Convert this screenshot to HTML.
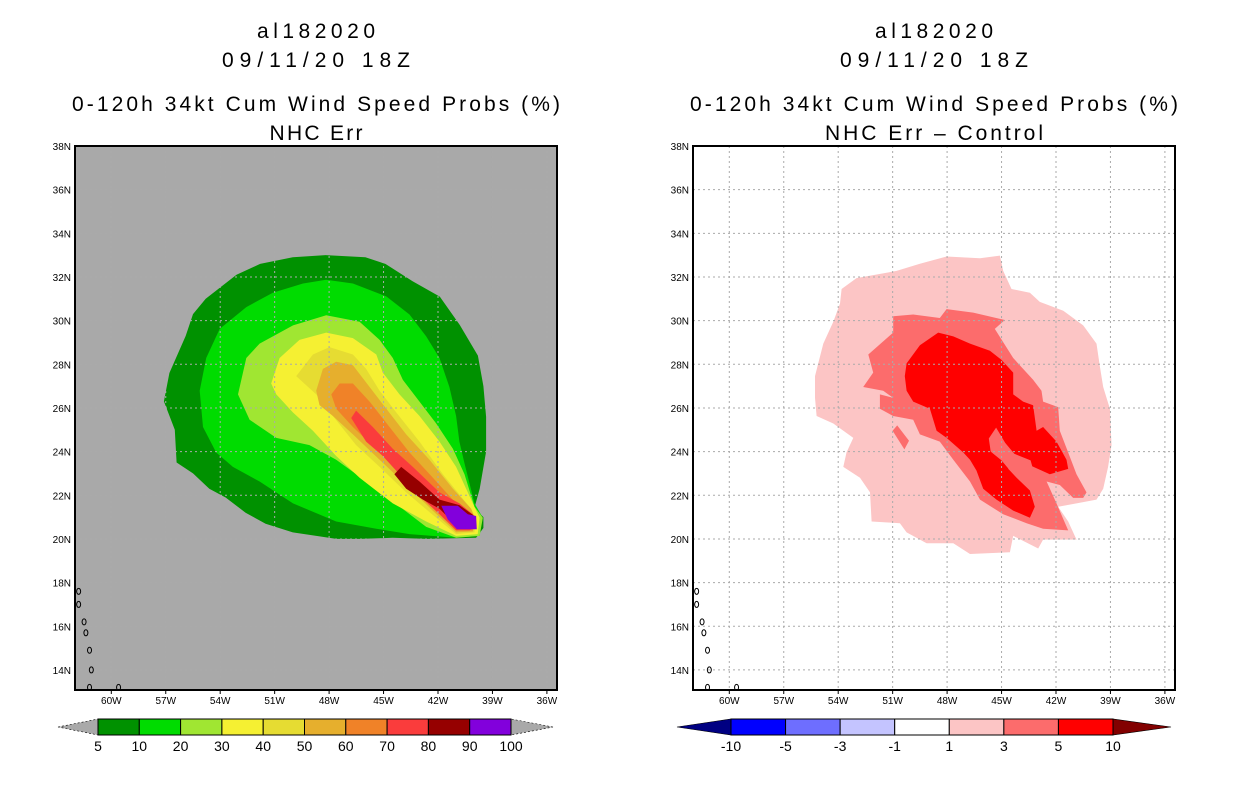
<!DOCTYPE html>
<html><head><meta charset="utf-8"><style>
body{margin:0;background:#fff;width:1236px;height:800px;overflow:hidden}
svg{display:block}
text{font-family:"Liberation Sans",sans-serif;fill:#000}
</style></head><body>
<svg id="s" width="1236" height="800"></svg>
<script>
const lonTicks=[60,57,54,51,48,45,42,39,36];
const latTicks=[14,16,18,20,22,24,26,28,30,32,34,36,38];
const probLevels=['5','10','20','30','40','50','60','70','80','90','100'];
const probColors=['#009100','#00dc00','#a0e632','#f5f032','#e6dc32','#e6af2d','#f08228','#fa3c3c','#960000','#8200dc'];
const diffLevels=['-10','-5','-3','-1','1','3','5','10'];
const diffColors=['#0000ff','#6e6eff','#c4c4ff','#ffffff','#fcc5c5','#fc6c6c','#ff0000'];
const p05=[[57.1,26.3],[56.8,27.6],[55.9,29.3],[55.5,30.3],[54.8,31.0],[53.1,32.1],[51.8,32.6],[50,32.9],[48.2,33],[46,32.9],[44.9,32.6],[43.4,31.8],[41.9,31.1],[40.8,29.8],[39.8,28.4],[39.5,27],[39.35,25.6],[39.35,24],[39.7,22.3],[40.0,21.4],[39.5,21.0],[39.5,20.5],[39.9,20.05],[42.6,20],[44.5,20.05],[46.3,20],[47.6,20],[50,20.3],[51.5,20.7],[52.6,21.2],[53.7,21.9],[54.6,22.3],[55.5,23.0],[56.4,23.5],[56.5,25]];
const p10=[[55.13,26.79],[54.77,28.29],[54.03,29.62],[52.56,30.62],[51.10,31.28],[49.44,31.70],[48.16,31.87],[46.69,31.70],[44.85,31.11],[43.57,30.28],[42.65,29.28],[41.92,28.29],[41.37,26.96],[41.0,25.63],[40.82,24.46],[40.54,23.46],[39.99,21.63],[39.53,20.97],[39.71,20.14],[41.0,20.05],[43.57,20.22],[45.40,20.47],[47.61,20.80],[49.99,21.63],[51.83,22.63],[53.30,23.30],[54.22,23.96],[54.95,25.13]];
const p20=[[53.02,26.62],[52.56,28.29],[51.83,28.95],[49.99,29.78],[48.16,30.25],[46.32,29.95],[45.22,29.12],[44.49,28.29],[43.94,27.29],[43.02,26.29],[42.10,25.29],[41.18,24.13],[40.54,22.96],[39.99,21.47],[39.53,20.97],[39.71,20.14],[41.0,20.05],[42.65,20.55],[45.40,22.30],[47.61,23.63],[49.08,24.30],[50.91,24.63],[52.38,25.46]];
const p30=[[51.19,27.12],[50.73,28.29],[49.63,29.12],[48.16,29.45],[46.69,29.20],[45.40,28.45],[45.04,27.62],[44.12,26.62],[43.02,25.63],[41.92,24.46],[41.0,23.30],[40.08,21.63],[39.71,20.97],[39.81,20.22],[41.0,20.14],[42.65,20.80],[44.49,21.63],[46.32,22.80],[47.61,23.80],[48.89,24.96],[49.99,25.79],[50.91,26.62]];
const p40=[[49.81,27.46],[48.89,28.45],[47.98,28.79],[46.69,28.45],[45.96,27.79],[45.22,26.79],[44.30,25.79],[43.02,24.46],[41.73,22.96],[40.27,21.47],[39.90,20.97],[39.99,20.30],[41.0,20.22],[42.10,20.97],[43.75,22.13],[45.22,23.30],[46.51,24.30],[47.79,25.63],[48.71,26.62]];
const p50=[[48.71,26.79],[48.34,27.79],[47.61,28.12],[46.69,27.96],[45.77,26.96],[44.85,25.96],[43.75,24.79],[42.47,23.63],[41.18,22.30],[40.17,21.38],[39.90,20.80],[40.08,20.34],[41.0,20.30],[42.29,21.30],[43.75,22.47],[45.22,23.63],[46.69,24.79],[47.79,25.63],[48.53,26.13]];
const p60=[[47.88,26.62],[47.42,27.12],[46.69,27.12],[45.77,26.29],[44.67,25.13],[43.57,23.96],[42.28,22.80],[41.0,21.63],[40.08,21.13],[40.08,20.39],[41.0,20.39],[42.28,21.47],[43.75,22.63],[45.22,23.96],[46.69,25.13],[47.61,25.96]];
const p70=[[46.78,25.54],[46.51,25.88],[45.59,25.13],[44.49,24.13],[43.39,23.30],[41.92,22.13],[40.82,21.63],[40.08,21.13],[39.90,20.55],[40.27,20.39],[41.0,20.39],[41.92,21.13],[43.02,21.97],[44.12,22.96],[45.04,23.80],[45.96,24.46]];
const p80=[[44.40,22.96],[44.03,23.30],[43.02,22.63],[41.92,21.80],[40.82,21.55],[39.99,21.05],[39.90,20.64],[40.91,20.55],[41.92,21.38],[42.83,21.80],[43.75,22.30]];
const p90=[[41.82,21.52],[40.91,21.52],[40.36,21.13],[39.90,21.05],[39.86,20.44],[40.96,20.44],[41.46,20.89]];
const d1=[[55.28,27.46],[54.82,28.95],[54.27,29.95],[53.90,30.78],[53.81,31.45],[52.99,31.95],[50.78,32.28],[49.50,32.61],[48.03,32.94],[46.19,32.86],[45.09,32.98],[44.91,32.28],[44.45,31.45],[43.44,31.28],[42.89,30.86],[41.60,30.45],[40.50,29.78],[39.77,28.95],[39.59,27.95],[39.40,26.96],[39.03,25.96],[38.94,24.30],[39.13,23.30],[39.40,22.30],[39.77,21.80],[40.87,21.63],[41.88,21.47],[41.33,20.80],[40.87,19.97],[42.71,19.97],[42.98,19.56],[44.36,20.14],[44.54,19.39],[46.74,19.31],[47.66,19.80],[49.13,19.80],[50.23,20.30],[50.60,20.72],[52.16,20.80],[52.25,22.13],[52.80,22.80],[53.72,23.30],[53.54,23.96],[53.17,24.63],[54.27,25.29],[55.19,25.63],[55.28,26.46]];
const d3=[[52.62,26.96],[52.07,27.62],[52.34,28.45],[50.97,29.45],[50.97,30.20],[49.87,30.28],[48.40,30.12],[48.03,30.53],[46.56,30.37],[44.82,30.03],[45.37,29.62],[44.36,28.29],[43.26,27.29],[42.80,26.79],[42.71,26.29],[41.88,26.04],[41.79,24.96],[41.33,23.96],[40.87,22.96],[40.32,22.13],[40.50,21.88],[41.05,21.88],[41.79,22.47],[42.52,22.63],[41.97,21.63],[41.33,20.39],[42.71,20.47],[43.62,20.72],[44.91,21.13],[46.19,21.80],[46.74,22.63],[47.66,23.63],[48.40,24.46],[49.50,24.79],[49.87,25.46],[50.97,25.63],[51.70,25.96],[51.70,26.62],[50.97,26.46],[51.52,26.79]];
const d3b=[[51.0,24.96],[50.75,25.2],[50.1,24.5],[50.35,24.1]];
const d5=[[50.33,27.46],[50.23,28.04],[49.50,28.87],[48.49,29.45],[47.66,29.28],[46.74,28.95],[45.64,28.62],[45.0,28.20],[44.36,27.62],[44.36,26.62],[43.81,26.29],[43.26,26.12],[43.07,24.96],[42.71,25.13],[41.97,24.46],[41.42,23.63],[41.33,23.21],[42.34,22.96],[43.44,23.38],[44.54,23.55],[44.63,23.21],[44.17,22.80],[43.44,22.22],[43.17,21.47],[43.44,20.97],[44.36,21.30],[45.28,21.80],[46.01,22.30],[46.38,23.13],[46.74,23.63],[47.11,23.96],[48.03,24.63],[48.58,24.96],[48.95,25.96],[49.87,26.29],[50.23,26.79]];
const d3c=[[45.7,24.6],[45.3,25.1],[44.8,24.4],[44.3,23.9],[43.4,23.6],[43.3,23.3],[44.5,23.45],[44.6,23.2],[45.0,23.6],[45.6,24.0]];
const islands=[[61.8,17.6],[61.8,17.0],[61.5,16.2],[61.4,15.7],[61.2,14.9],[61.1,14.0],[61.2,13.2],[59.6,13.2]];

const S=document.getElementById('s');
const NS='http://www.w3.org/2000/svg';
function mk(t,a,p){const e=document.createElementNS(NS,t);for(const k in a)e.setAttribute(k,a[k]);(p||S).appendChild(e);return e;}
function X(x0,lon){return x0+(62-lon)*18.15;}
function Y(lat){return 146+(38-lat)*21.83;}
function poly(x0,pts,fill,name,g){const e=mk('polygon',{points:pts.map(p=>X(x0,p[0]).toFixed(1)+','+Y(p[1]).toFixed(1)).join(' '),fill:fill},g);

return e;}
function txt(x,y,s,size,anchor,name,p,len){const a={x:x,y:y,'font-size':size,'text-anchor':anchor||'middle'};
if(len){a.textLength=len;a.lengthAdjust='spacing';}
const e=mk('text',a,p);e.textContent=s;

return e;}

function panel(x0,bg,lines,sublen,key){
  const g=mk('g',{});
  
  
  const cx=x0+241;
  txt(cx,38,'al182020',21,'middle','storm-id-title',g,118);
  txt(cx,67,'09/11/20 18Z',21,'middle','date-title',g,188);
  txt(cx,111,'0-120h 34kt Cum Wind Speed Probs (%)',21,'middle','product-title',g,488);
  txt(cx,140,lines,21,'middle','subtitle',g,sublen);
  const r=mk('rect',{x:x0,y:146,width:482,height:544,fill:bg},g);
  
  
  return g;
}
function grid(x0,g){
  lonTicks.forEach(l=>{const x=X(x0,l);const e=mk('line',{x1:x,x2:x,y1:146,y2:690,stroke:'#aaa','stroke-dasharray':'2,3'},g);
  
  
  txt(x,704,l+'W',10,'middle','x-tick-label',g);
  mk('line',{x1:x,x2:x,y1:690,y2:694,stroke:'#000'},g);});
  latTicks.forEach(l=>{const y=Y(l);const e=mk('line',{x1:x0,x2:x0+482,y1:y,y2:y,stroke:'#aaa','stroke-dasharray':'2,3'},g);
  
  
  txt(x0-4,y+4,l+'N',10,'end','y-tick-label',g);});
  const isl=mk('g',{fill:'none',stroke:'#000','stroke-width':1},g);
  
  
  islands.forEach(p=>mk('ellipse',{cx:X(x0,p[0]),cy:Y(p[1]),rx:2,ry:3},isl));
  const f=mk('rect',{x:x0,y:146,width:482,height:544,fill:'none',stroke:'#000','stroke-width':2},g);
  
  
}
const gl=panel(75,'#a9a9a9','NHC Err',93,'left');
[p05,p10,p20,p30,p40,p50,p60,p70,p80,p90].forEach((p,i)=>poly(75,p,probColors[i],'prob-contour-'+probLevels[i],gl));
grid(75,gl);
const gr=panel(693,'#ffffff','NHC Err \u2013 Control',218,'right');
poly(693,d1,diffColors[4],'diff-contour-1',gr);
poly(693,d3,diffColors[5],'diff-contour-3',gr);
poly(693,d3b,diffColors[5],'diff-contour-3-blob',gr);
poly(693,d5,diffColors[6],'diff-contour-5',gr);
poly(693,d3c,diffColors[5],'diff-contour-3-inner',gr);
grid(693,gr);

function cbar(x1,x2,tipL,tipR,cols,labels,cl,cr,name){
  const g=mk('g',{});
  
  
  const w=(x2-x1)/cols.length;
  mk('polygon',{points:`${tipL},727 ${x1},719 ${x1},735`,fill:cl,stroke:'#000','stroke-width':0.6,'stroke-dasharray':cl=='#a9a9a9'?'2,2':''},g);
  mk('polygon',{points:`${tipR},727 ${x2},719 ${x2},735`,fill:cr,stroke:'#000','stroke-width':0.6,'stroke-dasharray':cr=='#a9a9a9'?'2,2':''},g);
  cols.forEach((c,i)=>{const r=mk('rect',{x:x1+i*w,y:719,width:w,height:16,fill:c,stroke:'#000','stroke-width':1},g);
  
  });
  labels.forEach((l,i)=>txt(x1+i*w,751,l,14,'middle','colorbar-label',g));
}
cbar(98,511,58,553,probColors,probLevels,'#a9a9a9','#a9a9a9','prob-colorbar');
cbar(731,1113,677,1171,diffColors,diffLevels,'#000082','#820000','diff-colorbar');
</script>
</body></html>
